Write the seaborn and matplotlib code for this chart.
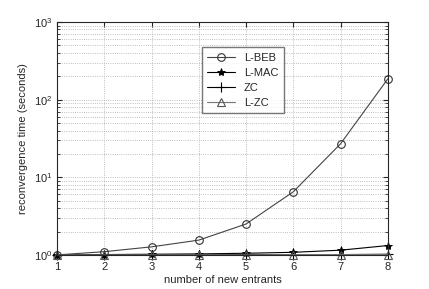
import matplotlib

matplotlib.use("Agg")

import matplotlib.pyplot as plt
import pandas as pd
import seaborn as sns

sns.set_style("ticks")
plt.rcParams["font.family"] = ["Liberation Sans", "DejaVu Sans"]

entrants = [1, 2, 3, 4, 5, 6, 7, 8]
l_beb = [1.0, 1.1, 1.27, 1.55, 2.5, 6.5, 27.0, 185.0]
l_mac = [1.0, 1.01, 1.02, 1.03, 1.05, 1.08, 1.15, 1.32]
zc = [1.0, 1.0, 1.0, 1.0, 1.01, 1.01, 1.01, 1.02]
l_zc = [1.0, 1.0, 1.0, 1.0, 1.0, 1.01, 1.01, 1.01]

series = {"L-BEB": l_beb, "L-MAC": l_mac, "ZC": zc, "L-ZC": l_zc}
styles = {
    "L-BEB": dict(color="#444444", marker="o", mfc="none", mec="#333333", ms=5.5, mew=0.8),
    "L-MAC": dict(color="black", marker="*", mfc="black", mec="black", ms=6, mew=0.6),
    "ZC": dict(color="black", marker="+", mec="black", ms=7, mew=0.8),
    "L-ZC": dict(color="#777777", marker="^", mfc="none", mec="#555555", ms=5.5, mew=0.8),
}

df = pd.DataFrame(
    [(x, name, v) for name, vals in series.items() for x, v in zip(entrants, vals)],
    columns=["entrants", "scheme", "time"],
)

fig, ax = plt.subplots(figsize=(4.29, 2.89), dpi=100)
for name in series:
    sub = df[df["scheme"] == name]
    sns.lineplot(data=sub, x="entrants", y="time", ax=ax, label=name,
                 linewidth=0.8, linestyle="-", clip_on=False, **styles[name])

ax.set_yscale("log")
ax.set_ylim(1, 1000)
ax.set_xlim(1, 8)
ax.set_xticks(entrants)
ax.grid(True, which="major", linestyle=":", color="#aaaaaa", linewidth=0.6)
ax.grid(True, which="minor", axis="y", linestyle=":", color="#aaaaaa", linewidth=0.6)
ax.tick_params(which="both", direction="in", top=True, right=True, labelsize=8)
ax.tick_params(axis="x", pad=5)
for s in ax.spines.values():
    s.set_linewidth(0.8)
ax.set_xlabel("number of new entrants", fontsize=8, labelpad=2)
ax.set_ylabel("reconvergence time (seconds)", fontsize=8)
leg = ax.legend(loc="upper left", bbox_to_anchor=(0.42, 0.915), fontsize=8,
                frameon=True, fancybox=False, edgecolor="#555555",
                handlelength=2.5, borderpad=0.5, labelspacing=0.45)
leg.get_frame().set_linewidth(1.0)

fig.subplots_adjust(left=0.133, right=0.904, top=0.924, bottom=0.118)
fig.savefig("out.png", dpi=100)
plt.close(fig)
